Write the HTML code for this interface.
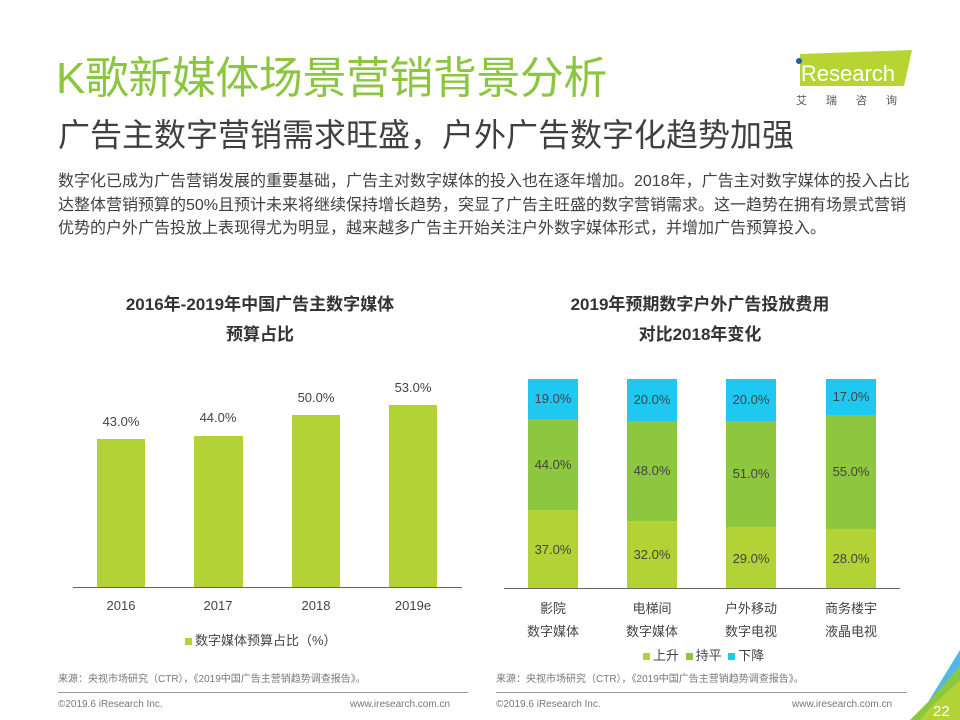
<!DOCTYPE html>
<html><head><meta charset="utf-8"><style>
*{margin:0;padding:0;box-sizing:border-box}
body{width:960px;height:720px;background:#fff;position:relative;overflow:hidden;font-family:"Liberation Sans","Noto Sans CJK SC",sans-serif;color:#404040}
.a{position:absolute;white-space:nowrap}
.c{text-align:center}
.bar{position:absolute}
.lab{position:absolute;font-size:13px;color:#444;text-align:center;width:60px}
</style></head><body>
<div class="a" style="left:56px;top:52px;font-size:44px;color:#8cc63f;letter-spacing:-0.5px;line-height:54px">K歌新媒体场景营销背景分析</div>
<div class="a" style="left:58px;top:114px;font-size:32px;color:#404040;line-height:42px">广告主数字营销需求旺盛，户外广告数字化趋势加强</div>
<div class="a" style="left:58px;top:170px;font-size:16px;line-height:23.5px;color:#404040">数字化已成为广告营销发展的重要基础，广告主对数字媒体的投入也在逐年增加。2018年，广告主对数字媒体的投入占比<br>达整体营销预算的50%且预计未来将继续保持增长趋势，突显了广告主旺盛的数字营销需求。这一趋势在拥有场景式营销<br>优势的户外广告投放上表现得尤为明显，越来越多广告主开始关注户外数字媒体形式，并增加广告预算投入。</div>
<!-- logo -->
<svg class="a" style="left:790px;top:48px" width="125" height="40"><polygon points="10,6 122,2 114,38 10,38" fill="#b8d432"/><circle cx="9" cy="13" r="3" fill="#1f5fa8"/><text x="6" y="33" font-family="Liberation Sans" font-size="22" fill="#fff">iResearch</text></svg>
<div class="a" style="left:796px;top:92px;font-size:11px;color:#555;letter-spacing:19px">艾瑞咨询</div>
<!-- chart titles -->
<div class="a c" style="left:60px;top:290px;width:400px;font-size:17px;font-weight:bold;color:#333;line-height:30px">2016年-2019年中国广告主数字媒体<br>预算占比</div>
<div class="a c" style="left:500px;top:290px;width:400px;font-size:17px;font-weight:bold;color:#333;line-height:30px">2019年预期数字户外广告投放费用<br>对比2018年变化</div>
<!-- left chart -->
<div class="bar" style="left:97px;top:439px;width:48px;height:148px;background:#b2d235"></div>
<div class="bar" style="left:194px;top:436px;width:49px;height:151px;background:#b2d235"></div>
<div class="bar" style="left:292px;top:415px;width:48px;height:172px;background:#b2d235"></div>
<div class="bar" style="left:389px;top:405px;width:48px;height:182px;background:#b2d235"></div>
<div class="a" style="left:73px;top:587px;width:389px;height:1px;background:#666"></div>
<div class="lab" style="left:91px;top:414px">43.0%</div>
<div class="lab" style="left:188px;top:410px">44.0%</div>
<div class="lab" style="left:286px;top:390px">50.0%</div>
<div class="lab" style="left:383px;top:380px">53.0%</div>
<div class="lab" style="left:91px;top:598px">2016</div>
<div class="lab" style="left:188px;top:598px">2017</div>
<div class="lab" style="left:286px;top:598px">2018</div>
<div class="lab" style="left:383px;top:598px">2019e</div>
<div class="a" style="left:185px;top:630px;font-size:13px;color:#444"><span style="display:inline-block;width:7px;height:7px;background:#b2d235;margin-right:3px"></span>数字媒体预算占比（%）</div>
<!-- right chart -->
<div class="bar" style="left:528px;top:379px;width:50px;height:40px;background:#1ec8f0"></div>
<div class="bar" style="left:528px;top:419px;width:50px;height:91px;background:#8dc63f"></div>
<div class="bar" style="left:528px;top:510px;width:50px;height:78px;background:#b2d235"></div>
<div class="bar" style="left:627px;top:379px;width:50px;height:42px;background:#1ec8f0"></div>
<div class="bar" style="left:627px;top:421px;width:50px;height:100px;background:#8dc63f"></div>
<div class="bar" style="left:627px;top:521px;width:50px;height:67px;background:#b2d235"></div>
<div class="bar" style="left:726px;top:379px;width:50px;height:42px;background:#1ec8f0"></div>
<div class="bar" style="left:726px;top:421px;width:50px;height:106px;background:#8dc63f"></div>
<div class="bar" style="left:726px;top:527px;width:50px;height:61px;background:#b2d235"></div>
<div class="bar" style="left:826px;top:379px;width:50px;height:36px;background:#1ec8f0"></div>
<div class="bar" style="left:826px;top:415px;width:50px;height:114px;background:#8dc63f"></div>
<div class="bar" style="left:826px;top:529px;width:50px;height:59px;background:#b2d235"></div>
<div class="a" style="left:504px;top:588px;width:396px;height:1px;background:#666"></div>
<div class="lab" style="left:523px;top:391px">19.0%</div><div class="lab" style="left:523px;top:457px">44.0%</div><div class="lab" style="left:523px;top:542px">37.0%</div>
<div class="lab" style="left:622px;top:392px">20.0%</div><div class="lab" style="left:622px;top:463px">48.0%</div><div class="lab" style="left:622px;top:547px">32.0%</div>
<div class="lab" style="left:721px;top:392px">20.0%</div><div class="lab" style="left:721px;top:466px">51.0%</div><div class="lab" style="left:721px;top:551px">29.0%</div>
<div class="lab" style="left:821px;top:389px">17.0%</div><div class="lab" style="left:821px;top:464px">55.0%</div><div class="lab" style="left:821px;top:551px">28.0%</div>
<div class="a c" style="left:513px;top:597px;width:80px;font-size:13px;line-height:23px;color:#444">影院<br>数字媒体</div>
<div class="a c" style="left:612px;top:597px;width:80px;font-size:13px;line-height:23px;color:#444">电梯间<br>数字媒体</div>
<div class="a c" style="left:711px;top:597px;width:80px;font-size:13px;line-height:23px;color:#444">户外移动<br>数字电视</div>
<div class="a c" style="left:811px;top:597px;width:80px;font-size:13px;line-height:23px;color:#444">商务楼宇<br>液晶电视</div>
<div class="a" style="left:643px;top:645px;font-size:13px;color:#444"><span style="display:inline-block;width:7px;height:7px;background:#b2d235;margin-right:3px"></span>上升 <span style="display:inline-block;width:7px;height:7px;background:#8dc63f;margin:0 3px"></span>持平 <span style="display:inline-block;width:7px;height:7px;background:#1ec8f0;margin:0 3px"></span>下降</div>
<!-- footers -->
<div class="a" style="left:58px;top:670px;font-size:10px;color:#777">来源：央视市场研究（CTR），《2019中国广告主营销趋势调查报告》。</div>
<div class="a" style="left:496px;top:670px;font-size:10px;color:#777">来源：央视市场研究（CTR），《2019中国广告主营销趋势调查报告》。</div>
<div class="a" style="left:58px;top:692px;width:410px;height:1px;background:#999"></div>
<div class="a" style="left:496px;top:692px;width:411px;height:1px;background:#999"></div>
<div class="a" style="left:58px;top:699px;font-size:10px;color:#777">©2019.6 iResearch Inc.</div>
<div class="a" style="left:350px;top:699px;font-size:10px;color:#777">www.iresearch.com.cn</div>
<div class="a" style="left:496px;top:699px;font-size:10px;color:#777">©2019.6 iResearch Inc.</div>
<div class="a" style="left:792px;top:699px;font-size:10px;color:#777">www.iresearch.com.cn</div>
<svg class="a" style="left:900px;top:640px" width="60" height="80"><polygon points="60,10 60,26 30,72 22,72" fill="#4fb8e8"/><polygon points="60,26 60,80 10,80 30,60" fill="#8dc63f"/><polygon points="30,68 60,40 60,80 20,80" fill="#b2d235"/><text x="33" y="76" font-family="Liberation Sans" font-size="15" fill="#fff">22</text></svg>
</body></html>
